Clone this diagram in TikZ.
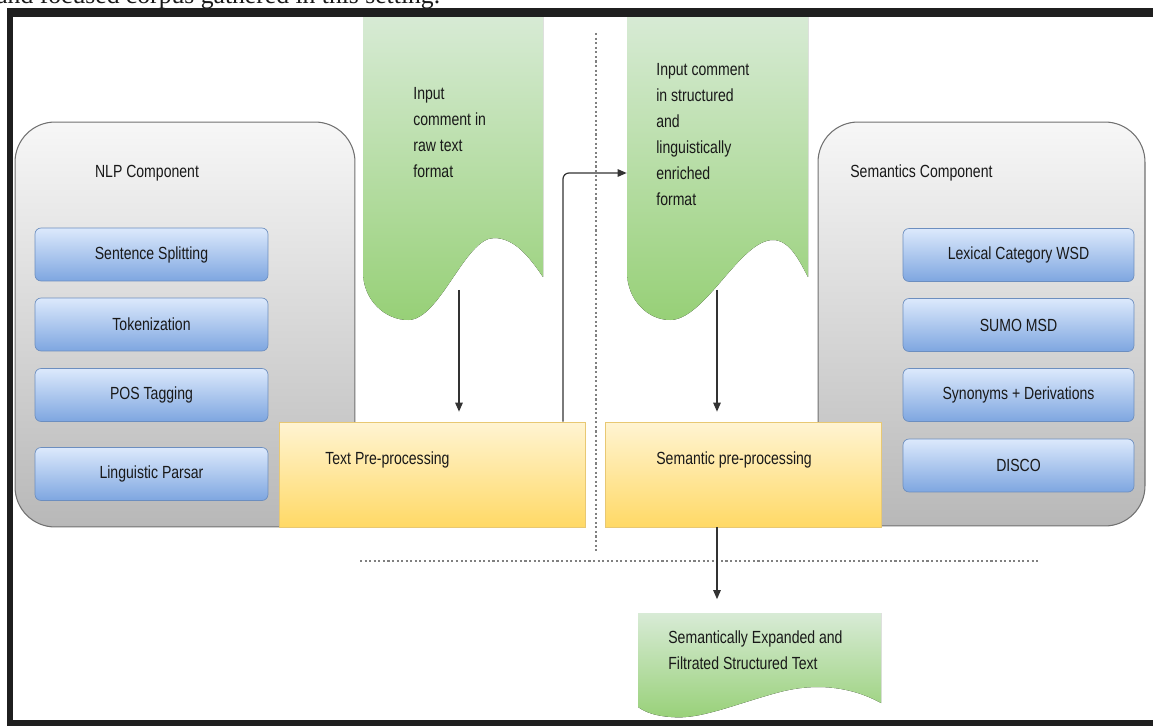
\documentclass[tikz,border=0pt]{standalone}
\usepackage{fontspec}
\setmainfont{Liberation Sans}[FakeStretch=0.8]
\newfontfamily\pageserif{Liberation Serif}
\usetikzlibrary{arrows.meta,positioning}

\definecolor{comptop}{HTML}{F7F7F7}
\definecolor{compbot}{HTML}{B8B8B8}
\definecolor{compedge}{HTML}{707070}
\definecolor{tasktop}{HTML}{DCE9FC}
\definecolor{taskbot}{HTML}{7EA6E0}
\definecolor{taskedge}{HTML}{6C8EBF}
\definecolor{preptop}{HTML}{FFF4D2}
\definecolor{prepbot}{HTML}{FFD966}
\definecolor{prepedge}{HTML}{E8C873}
\definecolor{doctop}{HTML}{D8EBD6}
\definecolor{docbot}{HTML}{97D077}

\begin{document}
\begin{tikzpicture}[x=0.02cm, y=-0.02cm,
    every node/.style={font=\fontsize{10}{14.8}\selectfont, text=black!90},
    comp/.style={draw=compedge, top color=comptop, bottom color=compbot, rounded corners=0.8cm, line width=0.6pt},
    task/.style={draw=taskedge, top color=tasktop, bottom color=taskbot, rounded corners=0.12cm, minimum height=1.06cm},
    prep/.style={draw=prepedge, top color=preptop, bottom color=prepbot, minimum height=2.1cm},
    doc/.style={top color=doctop, bottom color=docbot},
    lbl/.style={inner sep=0pt, align=left},
    arr/.style={-{Triangle[length=0.18cm,width=0.15cm]}, draw=black!80, line width=0.7pt},
    sep/.style={draw=gray, dash pattern=on 1.2pt off 1.4pt, line width=0.6pt}]

\useasboundingbox (0,0) rectangle (1153,726);
\clip (0,0) rectangle (1153,726);

% line of the page above the figure
\node[anchor=base west, inner sep=0pt, font=\pageserif\fontsize{14.6}{16}\selectfont] (pageline) at (-4,3.5) {and focused corpus gathered in this setting.};

% components
\node[comp, minimum width=6.8cm, minimum height=8.1cm] (nlp) at (185,324.5) {};
\node[comp, minimum width=6.54cm, minimum height=8.08cm] (sem) at (981.5,324) {};
\node[lbl] (nlplbl) at (147,173) {NLP Component};
\node[lbl, anchor=west] (semlbl) at (850,173) {Semantics Component};

\node[task, minimum width=4.66cm] (split) at (151.5,254.5) {Sentence Splitting};
\node[task, minimum width=4.66cm] (token) at (151.5,324.5) {Tokenization};
\node[task, minimum width=4.66cm] (pos) at (151.5,395) {POS Tagging};
\node[task, minimum width=4.66cm] (parse) at (151.5,474) {Linguistic Parsar};

\node[task, minimum width=4.62cm] (wsd) at (1018.5,255) {Lexical Category WSD};
\node[task, minimum width=4.62cm] (sumo) at (1018.5,325) {SUMO MSD};
\node[task, minimum width=4.62cm] (syn) at (1018.5,395) {Synonyms + Derivations};
\node[task, minimum width=4.62cm] (disco) at (1018.5,465.5) {DISCO};

% pre-processing steps
\node[prep, minimum width=6.12cm] (textpre) at (432,474.5) {};
\node[prep, minimum width=5.52cm] (sempre) at (743,474.5) {};
\node[lbl, anchor=west] (textprelbl) at (325,460) {Text Pre-processing};
\node[lbl, anchor=west] (sempreLbl) at (656,460) {Semantic pre-processing};

% input documents
\fill[doc] (363,12) -- (363,272) .. controls (363,300) and (385,320) .. (408,320)
    .. controls (440,320) and (465,238) .. (494,238)
    .. controls (515,238) and (530,258) .. (543,277) -- (543,12) -- cycle;
\fill[doc] (627,12) -- (627,272) .. controls (627,300) and (648,320) .. (670,320)
    .. controls (705,320) and (740,240) .. (773,240)
    .. controls (790,240) and (800,262) .. (808,277) -- (808,12) -- cycle;
\node[minimum width=3.6cm, minimum height=5.3cm] (raw) at (453,145) {};
\node[minimum width=3.62cm, minimum height=5.3cm] (enc) at (717.5,145) {};
\node[lbl, anchor=west] (rawtxt) at (413,133) {Input\\comment in\\raw text\\format};
\node[lbl, anchor=west] (enctxt) at (656,135) {Input comment\\in structured\\and\\linguistically\\enriched\\format};

% output document
\fill[doc] (638,613) -- (881,613) -- (881,703)
    .. controls (850,686) and (815,683) .. (780,692)
    .. controls (735,704) and (700,720) .. (671,717)
    .. controls (655,716) and (645,712) .. (638,707) -- cycle;
\node[minimum width=4.86cm, minimum height=1.9cm] (result) at (759.5,660) {};
\node[lbl, anchor=west] (resulttxt) at (668,650) {Semantically Expanded and\\Filtrated Structured Text};

% separators
\draw[sep] (596,33) -- (596,552);
\draw[sep] (360,561) -- (1040,561);

% flow
\coordinate (rawout) at (459,290);
\coordinate (encout) at (717,290);
\coordinate (loopturn) at (563,173);
\draw[arr, shorten >=0.2cm] (rawout) -- (rawout |- textpre.north);
\draw[arr, shorten >=0.2cm] (encout) -- (encout |- sempre.north);
\draw[arr, rounded corners=0.12cm] (textpre.north -| loopturn) -- (loopturn) -- (loopturn -| enc.west);
\draw[arr, shorten >=0.26cm] (encout |- sempre.south) -- (encout |- result.north);

% frame of the screenshot
\fill[black!88] (7,8) rectangle (1153,17);
\fill[black!88] (7,8) rectangle (13,726);
\fill[black!88] (7,720) rectangle (1153,726);

\end{tikzpicture}
\end{document}
